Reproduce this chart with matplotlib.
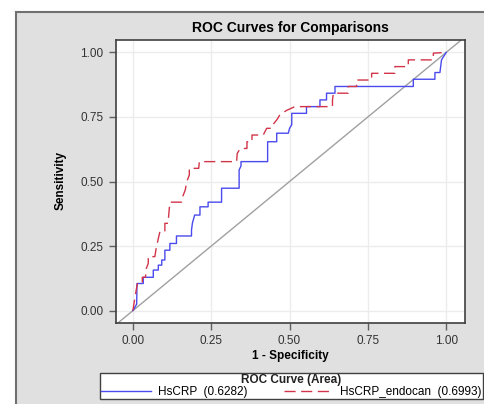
import matplotlib
matplotlib.use("Agg")
import matplotlib.pyplot as plt
from matplotlib.patches import Rectangle

plt.rcParams["font.family"] = ["Liberation Sans", "DejaVu Sans"]

# ROC points (1 - specificity, sensitivity)
hscrp_fpr = [0.0, 0.012, 0.013, 0.033, 0.033, 0.065, 0.065, 0.081, 0.081, 0.092,
             0.092, 0.102, 0.102, 0.118, 0.118, 0.139, 0.139, 0.187, 0.187, 0.19,
             0.197, 0.214, 0.214, 0.24, 0.24, 0.283, 0.283, 0.339, 0.339, 0.345,
             0.345, 0.43, 0.43, 0.459, 0.459, 0.496, 0.5, 0.507, 0.507, 0.554,
             0.554, 0.597, 0.597, 0.618, 0.618, 0.645, 0.645, 0.895, 0.895, 0.964,
             0.964, 0.98, 0.985, 1.0]
hscrp_tpr = [0.0, 0.025, 0.105, 0.105, 0.129, 0.129, 0.157, 0.157, 0.176, 0.176,
             0.196, 0.196, 0.234, 0.234, 0.26, 0.26, 0.289, 0.289, 0.312, 0.339,
             0.37, 0.37, 0.402, 0.402, 0.42, 0.42, 0.474, 0.474, 0.545, 0.56,
             0.577, 0.577, 0.654, 0.654, 0.687, 0.687, 0.706, 0.72, 0.764, 0.764,
             0.79, 0.79, 0.816, 0.816, 0.842, 0.842, 0.868, 0.868, 0.896, 0.896,
             0.922, 0.922, 0.971, 1.0]

endocan_fpr = [0.0, 0.005, 0.012, 0.015, 0.03, 0.03, 0.04, 0.043, 0.049, 0.049,
               0.07, 0.075, 0.08, 0.086, 0.102, 0.102, 0.112, 0.115, 0.118, 0.155,
               0.16, 0.167, 0.172, 0.18, 0.18, 0.21, 0.212, 0.331, 0.333, 0.343,
               0.364, 0.364, 0.38, 0.38, 0.416, 0.427, 0.443, 0.45, 0.46, 0.469,
               0.49, 0.517, 0.637, 0.637, 0.64, 0.687, 0.687, 0.714, 0.714, 0.762,
               0.762, 0.836, 0.836, 0.879, 0.879, 0.959, 0.959, 1.0]
endocan_tpr = [0.0, 0.04, 0.09, 0.108, 0.108, 0.129, 0.129, 0.164, 0.183, 0.209,
               0.209, 0.247, 0.273, 0.305, 0.305, 0.338, 0.338, 0.38, 0.42, 0.42,
               0.445, 0.467, 0.5, 0.525, 0.551, 0.551, 0.577, 0.577, 0.609, 0.628,
               0.628, 0.654, 0.654, 0.68, 0.68, 0.706, 0.706, 0.725, 0.74, 0.758,
               0.775, 0.79, 0.79, 0.816, 0.842, 0.842, 0.868, 0.868, 0.893, 0.893,
               0.919, 0.919, 0.945, 0.945, 0.971, 0.971, 0.997, 1.0]

labels = ["HsCRP  (0.6282)", "HsCRP_endocan  (0.6993)"]
ticks = [0.0, 0.25, 0.5, 0.75, 1.0]
tick_labels = ["0.00", "0.25", "0.50", "0.75", "1.00"]

W, H = 485, 404
fig = plt.figure(figsize=(W / 100, H / 100), dpi=100)
fig.patch.set_facecolor("white")

# grey panel behind everything
panel = Rectangle((16 / W, -0.05), 1.0, 1 - 12 / H + 0.05,
                  transform=fig.transFigure, facecolor="#e0e0e0",
                  edgecolor="#707070", linewidth=1.5, zorder=-10)
fig.patches.append(panel)

ax = fig.add_axes([116 / W, 1 - 323 / H, 349 / W, 283 / H])
ax.set_zorder(1)
ax.set_facecolor("white")
ax.set_xlim(-0.054, 1.06)
ax.set_ylim(-0.048, 1.048)

ax.plot([-0.1, 1.1], [-0.1, 1.1], color="#a0a0a0", linewidth=1.0, zorder=2)
ax.plot(hscrp_fpr, hscrp_tpr, color="#4a4aee", linewidth=1.0, label=labels[0], zorder=3)
ax.plot(endocan_fpr, endocan_tpr, color="#d2354a", linewidth=1.0,
        linestyle=(0, (8, 4)), label=labels[1], zorder=3)

ax.set_xticks(ticks)
ax.set_xticklabels(tick_labels)
ax.set_yticks(ticks)
ax.set_yticklabels(tick_labels)
ax.grid(True, color="#ececec", linewidth=1.0, zorder=1)
ax.set_axisbelow(True)
ax.tick_params(direction="out", length=5, width=1, color="#606060",
               labelcolor="#333333", labelsize=8.5, pad=4)
for s in ax.spines.values():
    s.set_color("#404040")
    s.set_linewidth(1.2)

fig.text(290 / W, 1 - 28 / H, "ROC Curves for Comparisons", ha="center", va="center",
         fontsize=10, fontweight="bold")
fig.text(290 / W, 1 - 356 / H, "1 - Specificity", ha="center", va="center",
         fontsize=8.5, fontweight="bold")
fig.text(61 / W, 1 - 181 / H, "Sensitivity", ha="center", va="center",
         rotation=90, fontsize=8.5, fontweight="bold")

leg = fig.legend(loc="upper left", bbox_to_anchor=(100 / W, 1 - 373 / H, 383 / W, 0.001),
                 mode="expand", ncol=2, title="ROC Curve (Area)", fontsize=8.5,
                 title_fontproperties={"weight": "bold", "size": 8.5},
                 frameon=True, fancybox=False, edgecolor="#404040", framealpha=1,
                 borderpad=0.1, labelspacing=0.0, handlelength=4.2,
                 handletextpad=0.6, borderaxespad=0, columnspacing=1.0)
leg.get_frame().set_linewidth(1.0)
leg.get_title().set_color("#222222")

fig.savefig("out.png", dpi=100)
